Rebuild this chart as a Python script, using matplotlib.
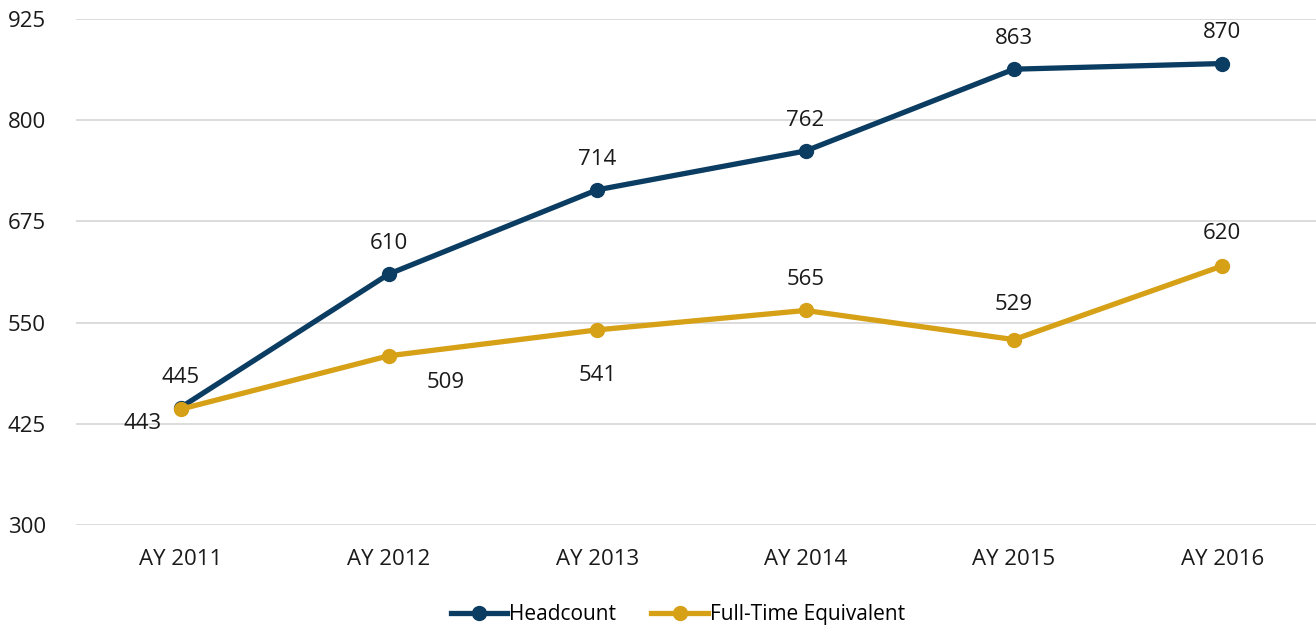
import matplotlib
matplotlib.use("Agg")
import matplotlib.pyplot as plt

categories = ["AY 2011", "AY 2012", "AY 2013", "AY 2014", "AY 2015", "AY 2016"]
headcount = [445, 610, 714, 762, 863, 870]
fte = [443, 509, 541, 565, 529, 620]
yticks = [300, 425, 550, 675, 800, 925]

# label offsets in points (dx, dy)
hc_offsets = [(0, 22), (0, 22), (0, 22), (0, 22), (0, 22), (0, 22)]
fte_offsets = [(-27, -10), (41, -19), (0, -33), (0, 22), (0, 25), (0, 23)]

plt.rcParams['font.family'] = ['Open Sans', 'DejaVu Sans']
FS = 16

fig = plt.figure(figsize=(13.16, 6.25), dpi=100)
ax = fig.add_axes([0.058, 0.16, 0.942, 0.8096])

c_hc = "#0B3C61"
c_fte = "#D6A017"

x = list(range(len(categories)))
ax.plot(x, headcount, color=c_hc, lw=3.8, marker='o', ms=10, label="Headcount", zorder=3)
ax.plot(x, fte, color=c_fte, lw=3.8, marker='o', ms=10, label="Full-Time Equivalent", zorder=4)

for i, v in enumerate(headcount):
    ax.annotate(str(v), (i, v), xytext=hc_offsets[i], textcoords='offset points',
                ha='center', va='center', fontsize=FS, color='#1a1a1a')
for i, v in enumerate(fte):
    ax.annotate(str(v), (i, v), xytext=fte_offsets[i], textcoords='offset points',
                ha='center', va='center', fontsize=FS, color='#1a1a1a')

ax.set_ylim(300, 925)
ax.set_yticks(yticks)
ax.set_xlim(-0.5, 5.45)
ax.set_xticks(x)
ax.set_xticklabels(categories)
ax.grid(axis='y', color='#d9d9d9', lw=1.3)
ax.set_axisbelow(True)
for s in ax.spines.values():
    s.set_visible(False)
ax.tick_params(length=0, labelsize=FS, colors='#1a1a1a')
ax.tick_params(axis='x', pad=17)
ax.tick_params(axis='y', pad=22)

leg = fig.legend(loc='lower center', bbox_to_anchor=(0.515, -0.03), ncol=2, frameon=False,
                 fontsize=15, handlelength=2.7, columnspacing=1.7, handletextpad=0.1)

fig.savefig("out.png", dpi=100)
